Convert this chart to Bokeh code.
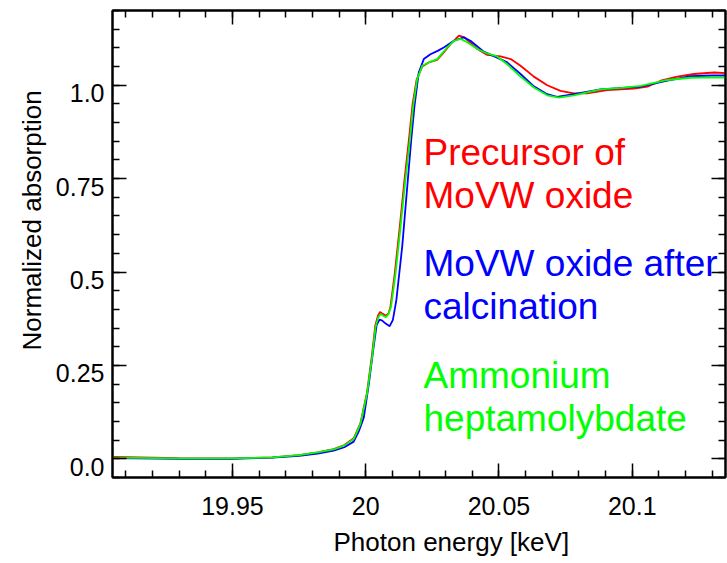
import numpy as np
from bokeh.plotting import figure
from bokeh.models import (LinearAxis, FixedTicker, CustomJSTickFormatter, Label, Range1d,
                          Title, CustomLabelingPolicy)
from bokeh.embed import file_html
from bokeh.resources import INLINE

# ---- data ----
energy_red = [19.905, 19.93, 19.95, 19.965, 19.975, 19.982, 19.988, 19.992, 19.9955, 19.998,
              20.0005, 20.0023, 20.0036, 20.0046, 20.0054, 20.0064, 20.0076, 20.0086, 20.0093,
              20.0109, 20.0128, 20.0146, 20.0163, 20.0176, 20.0191, 20.0212, 20.0237, 20.0268,
              20.0290, 20.0318, 20.0350, 20.0370, 20.0419, 20.0456, 20.0506, 20.0544, 20.0581,
              20.0631, 20.0681, 20.0731, 20.0781, 20.0831, 20.0906, 20.1006, 20.1057, 20.1107,
              20.1169, 20.1232, 20.1307, 20.1357]
absorb_red = [0.005, 0.002, 0.001, 0.004, 0.010, 0.017, 0.026, 0.037, 0.055, 0.095,
              0.178, 0.275, 0.357, 0.383, 0.393, 0.388, 0.383, 0.390, 0.408,
              0.496, 0.622, 0.750, 0.860, 0.950, 1.015, 1.050, 1.061, 1.068,
              1.085, 1.110, 1.133, 1.128, 1.097, 1.081, 1.077, 1.070, 1.052,
              1.023, 1.000, 0.985, 0.978, 0.978, 0.987, 0.991, 0.996, 1.012,
              1.023, 1.030, 1.034, 1.032]

energy_blue = [19.905, 19.93, 19.95, 19.965, 19.975, 19.982, 19.988, 19.992, 19.9955, 19.9975,
               19.9993, 20.0012, 20.0028, 20.0041, 20.0052, 20.0062, 20.0075, 20.0090, 20.0102,
               20.0115, 20.0137, 20.0156, 20.0171, 20.0183, 20.0199, 20.0218, 20.0243, 20.0270,
               20.0293, 20.0331, 20.0368, 20.0393, 20.0443, 20.0493, 20.0531, 20.0581, 20.0631,
               20.0681, 20.0718, 20.0781, 20.0881, 20.1032, 20.1132, 20.1219, 20.1300, 20.1357]
absorb_blue = [0.002, 0.000, 0.000, 0.003, 0.008, 0.014, 0.022, 0.031, 0.046, 0.075,
               0.111, 0.201, 0.290, 0.358, 0.373, 0.370, 0.362, 0.355, 0.372,
               0.425, 0.568, 0.729, 0.855, 0.944, 1.034, 1.070, 1.083, 1.092,
               1.101, 1.119, 1.128, 1.119, 1.090, 1.074, 1.061, 1.030, 0.997,
               0.976, 0.969, 0.976, 0.989, 0.996, 1.012, 1.024, 1.026, 1.026]

energy_green = [19.905, 19.93, 19.95, 19.965, 19.975, 19.982, 19.988, 19.992, 19.9955, 19.998,
                20.0005, 20.0024, 20.0037, 20.0047, 20.0056, 20.0066, 20.0076, 20.0086, 20.0095,
                20.0112, 20.0131, 20.0149, 20.0166, 20.0178, 20.0193, 20.0212, 20.0237, 20.0268,
                20.0306, 20.0331, 20.0356, 20.0381, 20.0419, 20.0456, 20.0493, 20.0531, 20.0581,
                20.0631, 20.0681, 20.0725, 20.0781, 20.0881, 20.0960, 20.1032, 20.1132, 20.1219,
                20.1300, 20.1357]
absorb_green = [0.003, 0.001, 0.001, 0.004, 0.010, 0.017, 0.025, 0.036, 0.053, 0.093,
                0.174, 0.272, 0.353, 0.378, 0.388, 0.383, 0.379, 0.388, 0.407,
                0.496, 0.622, 0.747, 0.855, 0.944, 1.016, 1.052, 1.061, 1.070,
                1.101, 1.119, 1.124, 1.115, 1.097, 1.085, 1.077, 1.056, 1.023,
                0.994, 0.973, 0.967, 0.973, 0.989, 0.993, 0.998, 1.014, 1.020,
                1.021, 1.020]

x_ticks = [19.95, 20.0, 20.05, 20.1]
x_tick_labels = ["19.95", "20", "20.05", "20.1"]
y_ticks = [0.0, 0.25, 0.5, 0.75, 1.0]
y_tick_labels = ["0.0", "0.25", "0.5", "0.75", "1.0"]

series_names = [["Precursor of", "MoVW oxide"],
                ["MoVW oxide after", "calcination"],
                ["Ammonium", "heptamolybdate"]]
series_colors = ["#ff0000", "#0000ff", "#00ff00"]

x_title = "Photon energy [keV]"
y_title = "Normalized absorption"

FONT = "Liberation Sans"
Y0, Y1 = -0.05, 1.2
LABEL_SHIFT = 0.0215   # y tick labels sit slightly below their ticks in the reference

p = figure(width=727, height=563, output_backend="svg", toolbar_location=None,
           x_range=Range1d(19.905, 20.135), y_range=Range1d(Y0, Y1),
           x_axis_location=None, y_axis_location=None,
           min_border_left=112, min_border_right=2, min_border_top=10, min_border_bottom=86)
p.extra_y_ranges = {"ylab": Range1d(Y0 + LABEL_SHIFT, Y1 + LABEL_SHIFT)}
p.background_fill_color = "white"
p.border_fill_color = "white"
p.outline_line_color = "black"
p.outline_line_width = 2
p.xgrid.visible = False
p.ygrid.visible = False

x_minor = [round(v, 3) for v in np.arange(19.91, 20.1351, 0.01)]
y_minor = [round(v, 3) for v in np.arange(-0.05, 1.2001, 0.05)]

fmt_code = """
const i = tvals.findIndex(t => Math.abs(t - tick) < 1e-9);
return i >= 0 ? tlabels[i] : "";
"""

def make_axis(tick_vals, minor, labels, show_labels, show_ticks=True, **kw):
    ax = LinearAxis(ticker=FixedTicker(ticks=tick_vals, minor_ticks=minor),
                    formatter=CustomJSTickFormatter(args=dict(tvals=tick_vals, tlabels=labels), code=fmt_code),
                    **kw)
    ax.axis_line_color = "black" if show_ticks else None
    ax.axis_line_width = 2
    ax.major_tick_line_color = "black" if show_ticks else None
    ax.major_tick_line_width = 1.5
    ax.minor_tick_line_color = "black" if show_ticks else None
    ax.minor_tick_line_width = 1.5
    ax.major_tick_in = 14 if show_ticks else 0
    ax.major_tick_out = 0
    ax.minor_tick_in = 7 if show_ticks else 0
    ax.minor_tick_out = 0
    ax.major_label_text_font = FONT
    ax.major_label_text_color = "black"
    if show_labels:
        ax.major_label_text_font_size = "25px"
    else:
        ax.major_label_text_font_size = "0px"
        ax.major_label_standoff = 0
        ax.major_label_policy = CustomLabelingPolicy(code="return new Set()")
    return ax

xb = make_axis(x_ticks, x_minor, x_tick_labels, True)
xb.major_label_standoff = 19
p.add_layout(xb, "below")
xt = make_axis(x_ticks, x_minor, x_tick_labels, False)
p.add_layout(xt, "above")

# left: ticks (no labels) next to the frame, then labels-only axis
yl_ticks = make_axis(y_ticks, y_minor, y_tick_labels, False)
p.add_layout(yl_ticks, "left")
yl_labels = make_axis(y_ticks, [], y_tick_labels, True, show_ticks=False, y_range_name="ylab")
yl_labels.major_label_standoff = 8
p.add_layout(yl_labels, "left")

yr = make_axis(y_ticks, y_minor, y_tick_labels, False)
p.add_layout(yr, "right")

p.line(energy_red, absorb_red, line_color=series_colors[0], line_width=1.8)
p.line(energy_blue, absorb_blue, line_color=series_colors[1], line_width=1.8)
p.line(energy_green, absorb_green, line_color=series_colors[2], line_width=1.8)

# series labels
label_x = 20.0217
label_baselines = [[0.819, 0.704], [0.522, 0.407], [0.223, 0.107]]
for names, color, ys in zip(series_names, series_colors, label_baselines):
    for txt, yv in zip(names, ys):
        p.add_layout(Label(x=label_x, y=yv, text=txt, text_color=color,
                           text_font=FONT, text_font_size="37px",
                           text_align="left", text_baseline="alphabetic"))

# axis titles
p.add_layout(Title(text=x_title, text_font=FONT, text_font_size="26px",
                   text_font_style="normal", text_color="black",
                   align="left", offset=221, standoff=14), "below")
p.add_layout(Title(text=y_title, text_font=FONT, text_font_size="26px",
                   text_font_style="normal", text_color="black",
                   align="left", offset=127, standoff=12), "left")

open("out.html", "w").write(file_html(p, INLINE))
